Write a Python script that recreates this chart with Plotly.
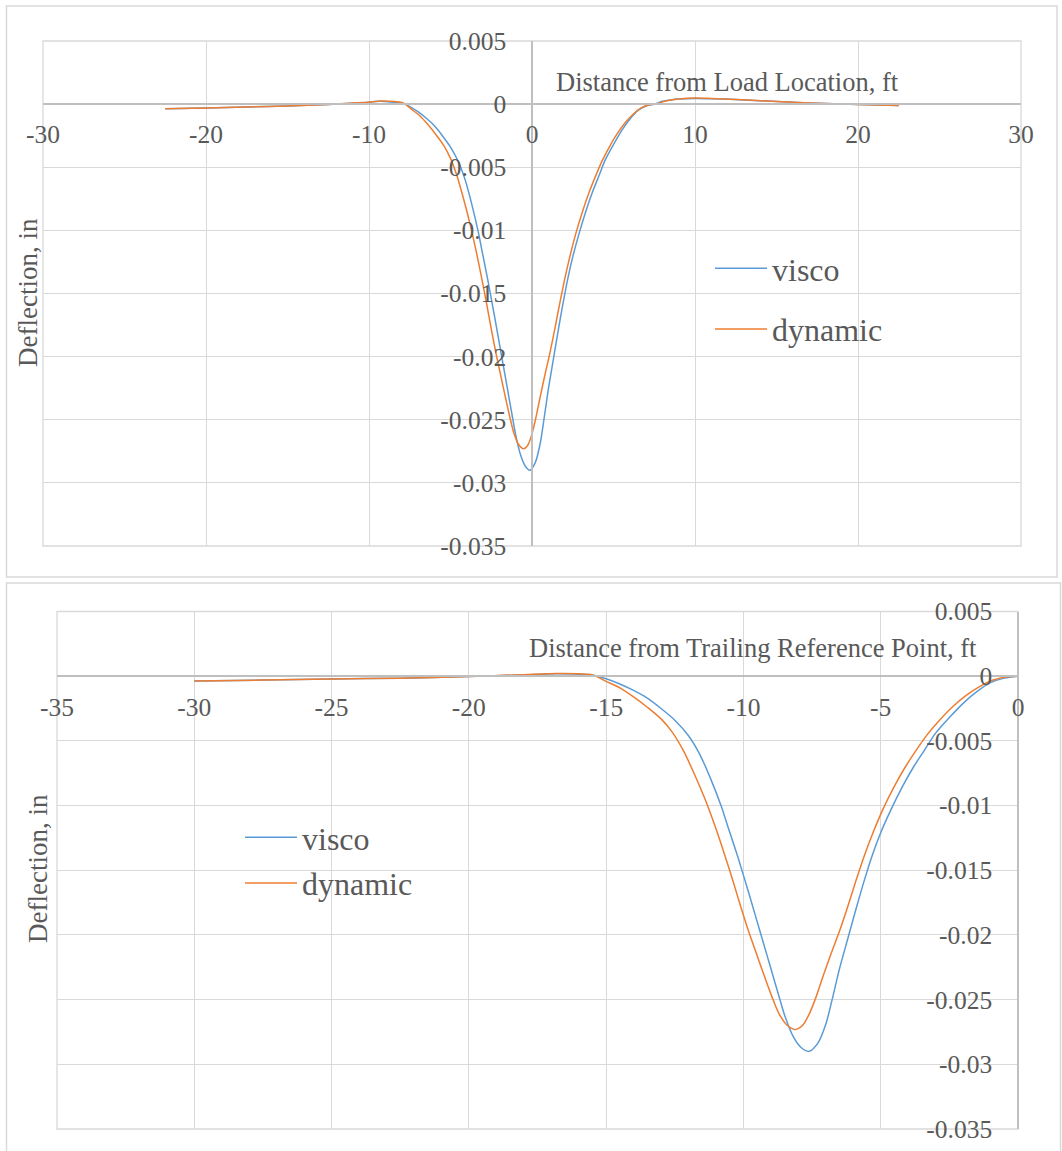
import plotly.graph_objects as go

W, H = 1062, 1151

# ---------------- data: top chart (Distance from Load Location, ft) ----------------
top_visco_x = [-22.5, -20, -17.5, -15, -12.5, -10.5, -9.3, -8.5, -8.0, -7.5, -7.0, -6.5, -6.0,
               -5.5, -5.0, -4.5, -4.1, -3.7, -3.3, -3.1, -2.7, -2.3, -1.9, -1.5, -1.17, -1.0, -0.7,
               -0.4, -0.12, 0.2, 0.5, 0.73, 1.0, 1.3, 1.6, 1.9, 2.2, 2.5, 2.9, 3.3, 3.7, 4.1, 4.5,
               5.0, 5.5, 6.0, 6.5, 7.0, 7.5, 8.0, 8.5, 9.0, 10.0, 11.0, 12.5, 14, 16, 18, 20, 22.5]
top_visco_y = [-0.00037, -0.0003, -0.00022, -0.00015, -0.00003, 0.0001, 0.00022, 0.00015, 0.0001,
               -0.0002, -0.0006, -0.0011, -0.0017, -0.0025, -0.0034, -0.0046, -0.0060, -0.0079,
               -0.0101, -0.0114, -0.0140, -0.0168, -0.0197, -0.0226, -0.0250, -0.0262, -0.0278,
               -0.0287, -0.0290, -0.0284, -0.0269, -0.0250, -0.0226, -0.0203, -0.0180, -0.0158,
               -0.0138, -0.0121, -0.0102, -0.0085, -0.0070, -0.0057, -0.0044, -0.0032, -0.0021,
               -0.0012, -0.0005, -0.00015, 0.0, 0.00022, 0.00033, 0.0004, 0.00045, 0.00043,
               0.00036, 0.00027, 0.00015, 0.00005, -0.00003, -0.0001]

top_dyn_x = [-22.5, -20, -17.5, -15, -12.5, -10.4, -9.2, -8.4, -7.9, -7.4, -6.9, -6.4, -5.9, -5.4,
             -5.0, -4.6, -4.2, -3.8, -3.4, -3.1, -2.8, -2.5, -2.2, -1.9, -1.6, -1.32, -1.1, -0.8,
             -0.52, -0.25, 0.0, 0.21, 0.5, 0.8, 1.1, 1.4, 1.7, 2.0, 2.3, 2.7, 3.1, 3.5, 3.9, 4.3,
             4.7, 5.2, 5.7, 6.2, 6.7, 7.2, 7.6, 8.2, 9.0, 10.0, 11.0, 12.5, 14, 16, 18, 20, 22.5]
top_dyn_y = [-0.00037, -0.0003, -0.00022, -0.00015, -0.00002, 0.00012, 0.00024, 0.0002, 0.0001,
             -0.0004, -0.0009, -0.0016, -0.0024, -0.0033, -0.0043, -0.0057, -0.0075, -0.0095,
             -0.0118, -0.0137, -0.0157, -0.0178, -0.0198, -0.0216, -0.0234, -0.0250, -0.0261,
             -0.0270, -0.0273, -0.0270, -0.0261, -0.0250, -0.0232, -0.0214, -0.0197, -0.0178,
             -0.0158, -0.0139, -0.0122, -0.0102, -0.0085, -0.0070, -0.0057, -0.0045, -0.0035,
             -0.0024, -0.0015, -0.0008, -0.0003, -0.00005, 0.0, 0.00025, 0.0004, 0.00048,
             0.00045, 0.00037, 0.00027, 0.00015, 0.00005, -0.00003, -0.0001]

# ---------------- data: bottom chart (Distance from Trailing Reference Point, ft) ----------------
bot_visco_x = [-30, -27.5, -25, -22.5, -20, -18, -16.8, -16.0, -15.5, -15.0, -14.5, -14.0, -13.5,
               -13.0, -12.5, -12.0, -11.6, -11.2, -10.8, -10.6, -10.2, -9.8, -9.4, -9.0, -8.67,
               -8.5, -8.2, -7.9, -7.62, -7.3, -7.0, -6.77, -6.5, -6.2, -5.9, -5.6, -5.3, -5.0,
               -4.6, -4.2, -3.8, -3.4, -3.0, -2.5, -2.0, -1.5, -1.0, -0.5, 0]
bot_visco_y = [-0.00037, -0.0003, -0.00022, -0.00015, -0.00003, 0.0001, 0.00018, 0.00015, 0.0001,
               -0.0002, -0.0006, -0.0011, -0.0017, -0.0025, -0.0034, -0.0046, -0.0060, -0.0079,
               -0.0101, -0.0114, -0.0140, -0.0168, -0.0197, -0.0226, -0.0250, -0.0262, -0.0278,
               -0.0287, -0.0290, -0.0284, -0.0269, -0.0250, -0.0226, -0.0203, -0.0180, -0.0158,
               -0.0138, -0.0121, -0.0102, -0.0085, -0.0070, -0.0057, -0.0044, -0.0032, -0.0021,
               -0.0012, -0.0005, -0.00015, 0.0]

bot_dyn_x = [-30, -27.5, -25, -22.5, -20, -18, -16.8, -16.0, -15.5, -15.0, -14.5, -14.0, -13.5,
             -13.0, -12.6, -12.2, -11.8, -11.4, -11.0, -10.7, -10.4, -10.1, -9.8, -9.5, -9.2, -8.92,
             -8.7, -8.4, -8.12, -7.85, -7.6, -7.39, -7.1, -6.8, -6.5, -6.2, -5.9, -5.6, -5.3, -4.9,
             -4.5, -4.1, -3.7, -3.3, -2.9, -2.4, -1.9, -1.4, -0.9, -0.4, 0]
bot_dyn_y = [-0.00037, -0.0003, -0.00022, -0.00015, -0.00002, 0.00012, 0.0002, 0.00018, 0.0001,
             -0.0004, -0.0009, -0.0016, -0.0024, -0.0033, -0.0043, -0.0057, -0.0075, -0.0095,
             -0.0118, -0.0137, -0.0157, -0.0178, -0.0198, -0.0216, -0.0234, -0.0250, -0.0261,
             -0.0270, -0.0273, -0.0270, -0.0261, -0.0250, -0.0232, -0.0214, -0.0197, -0.0178,
             -0.0158, -0.0139, -0.0122, -0.0102, -0.0085, -0.0070, -0.0057, -0.0045, -0.0035,
             -0.0024, -0.0015, -0.0008, -0.0003, -0.00005, 0.0]

# ---------------- ticks ----------------
top_x_ticks = [-30, -20, -10, 0, 10, 20, 30]
top_x_labels = ["-30", "-20", "-10", "0", "10", "20", "30"]
bot_x_ticks = [-35, -30, -25, -20, -15, -10, -5, 0]
bot_x_labels = ["-35", "-30", "-25", "-20", "-15", "-10", "-5", "0"]
y_ticks = [0.005, 0, -0.005, -0.01, -0.015, -0.02, -0.025, -0.03, -0.035]
y_labels = ["0.005", "0", "-0.005", "-0.01", "-0.015", "-0.02", "-0.025", "-0.03", "-0.035"]

series_names = ["visco", "dynamic"]
top_title = "Distance from Load Location, ft"
bot_title = "Distance from Trailing Reference Point, ft"
y_title = "Deflection, in"

BLUE = "#5B9BD5"
ORANGE = "#ED7D31"
TXT = "#595959"
GRID = "#D9D9D9"
AXIS = "#BFBFBF"
FONT = "Liberation Serif"


def fx(px):
    return px / W


def fy(py):
    return 1 - py / H


fig = go.Figure()
for xs, ys, name, col, xa, ya, lg in [
    (top_visco_x, top_visco_y, series_names[0], BLUE, "x", "y", "legend"),
    (top_dyn_x, top_dyn_y, series_names[1], ORANGE, "x", "y", "legend"),
    (bot_visco_x, bot_visco_y, series_names[0], BLUE, "x2", "y2", "legend2"),
    (bot_dyn_x, bot_dyn_y, series_names[1], ORANGE, "x2", "y2", "legend2"),
]:
    fig.add_trace(go.Scatter(
        x=xs, y=ys, name=name, mode="lines",
        line=dict(color=col, width=1.5, shape="spline", smoothing=0.8),
        xaxis=xa, yaxis=ya, legend=lg, legendgroup=lg + name,
    ))

tickfont = dict(family=FONT, size=25.5, color=TXT)

common_x = dict(showline=True, linecolor=AXIS, linewidth=1.5, showgrid=True, gridcolor=GRID,
                gridwidth=1.3, zeroline=False, ticks="", tickfont=tickfont, ticklabelstandoff=8,
                automargin=False)
common_y = dict(showline=True, linecolor=AXIS, linewidth=1.5, showgrid=True, gridcolor=GRID,
                gridwidth=1.3, zeroline=False, ticks="", tickfont=tickfont, ticklabelstandoff=20,
                range=[-0.035, 0.005], tickvals=y_ticks, ticktext=y_labels, automargin=False)

top_xd = [fx(43), fx(1021)]
top_yd = [fy(546), fy(41)]
bot_xd = [fx(57), fx(1018)]
bot_yd = [fy(1129), fy(611.5)]

legend_font = dict(family=FONT, size=32, color=TXT)

fig.update_layout(
    template="none",
    width=W, height=H, autosize=False,
    margin=dict(l=0, r=0, t=0, b=0, pad=0),
    paper_bgcolor="white", plot_bgcolor="white",
    xaxis=dict(domain=top_xd, range=[-30, 30], tickvals=top_x_ticks, ticktext=top_x_labels,
               anchor="free", position=top_yd[0] + (top_yd[1] - top_yd[0]) * 0.875, **common_x),
    yaxis=dict(domain=top_yd, anchor="free", position=(top_xd[0] + top_xd[1]) / 2, side="left",
               **common_y),
    xaxis2=dict(domain=bot_xd, range=[-35, 0], tickvals=bot_x_ticks, ticktext=bot_x_labels,
                anchor="free", position=bot_yd[0] + (bot_yd[1] - bot_yd[0]) * 0.875, **common_x),
    yaxis2=dict(domain=bot_yd, anchor="free", position=bot_xd[1], side="left", **common_y),
    legend=dict(x=fx(710), y=fy(241), xanchor="left", yanchor="top", bgcolor="rgba(0,0,0,0)",
                font=legend_font, tracegroupgap=16, itemwidth=52),
    legend2=dict(x=fx(240), y=fy(810), xanchor="left", yanchor="top", bgcolor="rgba(0,0,0,0)",
                 font=legend_font, tracegroupgap=1, itemwidth=52),
    showlegend=True,
    shapes=[
        dict(type="rect", xref="paper", yref="paper", x0=fx(6.5), x1=fx(1057), y0=fy(577),
             y1=fy(6), line=dict(color=GRID, width=1.5), layer="below"),
        dict(type="rect", xref="paper", yref="paper", x0=fx(6.5), x1=fx(1060.5), y0=fy(1160),
             y1=fy(583), line=dict(color=GRID, width=1.5), layer="below"),
        dict(type="rect", xref="paper", yref="paper", x0=top_xd[0], x1=top_xd[1], y0=top_yd[0],
             y1=top_yd[1], line=dict(color=GRID, width=1.3), layer="below"),
        dict(type="rect", xref="paper", yref="paper", x0=bot_xd[0], x1=bot_xd[1], y0=bot_yd[0],
             y1=bot_yd[1], line=dict(color=GRID, width=1.3), layer="below"),
    ],
    annotations=[
        dict(text=top_title, xref="paper", yref="paper", x=fx(554), y=fy(82), xanchor="left",
             yanchor="middle", showarrow=False, font=dict(family=FONT, size=26.5, color=TXT)),
        dict(text=bot_title, xref="paper", yref="paper", x=fx(527), y=fy(648), xanchor="left",
             yanchor="middle", showarrow=False, font=dict(family=FONT, size=26.5, color=TXT)),
        dict(text=y_title, xref="paper", yref="paper", x=fx(28), y=fy(293), xanchor="center",
             yanchor="middle", textangle=-90, showarrow=False,
             font=dict(family=FONT, size=27, color=TXT)),
        dict(text=y_title, xref="paper", yref="paper", x=fx(38), y=fy(869), xanchor="center",
             yanchor="middle", textangle=-90, showarrow=False,
             font=dict(family=FONT, size=27, color=TXT)),
    ],
)

fig.write_html("out.html")
